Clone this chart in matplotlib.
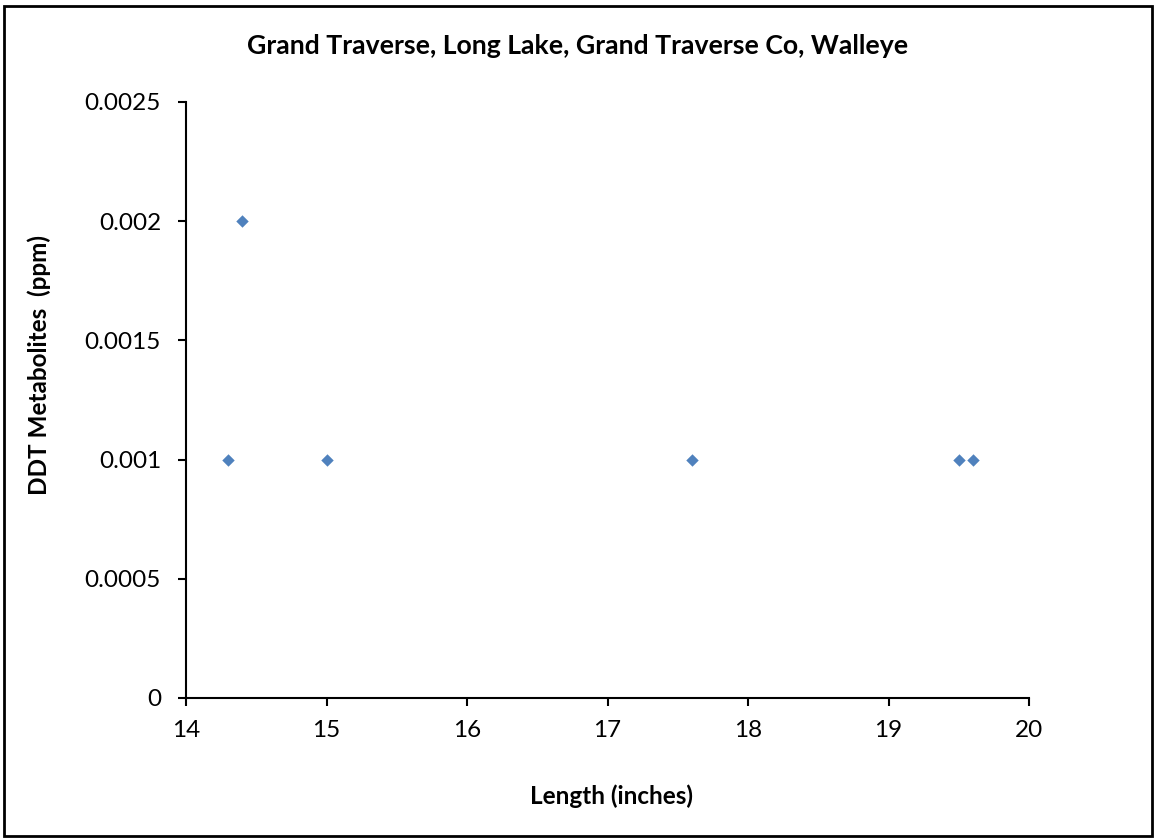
import matplotlib
matplotlib.use("Agg")
import matplotlib.pyplot as plt
from matplotlib.patches import Rectangle

length_in = [14.3, 14.4, 15.0, 17.6, 19.5, 19.6]
ddt_ppm = [0.001, 0.002, 0.001, 0.001, 0.001, 0.001]
x_ticks = [14, 15, 16, 17, 18, 19, 20]
y_ticks = [0, 0.0005, 0.001, 0.0015, 0.002, 0.0025]
y_tick_labels = ["0", "0.0005", "0.001", "0.0015", "0.002", "0.0025"]

plt.rcParams['font.family'] = ['Lato', 'DejaVu Sans']

W, H = 1156, 840
fig = plt.figure(figsize=(W / 100, H / 100), dpi=100)
ax = fig.add_axes([186 / W, 1 - 698 / H, (1029 - 186) / W, (698 - 102) / H])

ax.scatter(length_in, ddt_ppm, marker='D', s=40, color='#4F81BD', linewidths=0, zorder=3)

ax.set_xlim(14, 20)
ax.set_ylim(0, 0.0025)
ax.set_xticks(x_ticks)
ax.set_xticklabels([str(t) for t in x_ticks])
ax.set_yticks(y_ticks)
ax.set_yticklabels(y_tick_labels)
for s in ['top', 'right']:
    ax.spines[s].set_visible(False)
for s in ['left', 'bottom']:
    ax.spines[s].set_linewidth(1.5)
ax.tick_params(axis='x', direction='out', length=6, width=1.5, labelsize=17.5, pad=10)
ax.tick_params(axis='y', direction='out', length=6, width=1.5, labelsize=17.5, pad=12)

fig.text(578 / W, 1 - 46 / H, "Grand Traverse, Long Lake, Grand Traverse Co, Walleye",
         ha='center', va='center', fontsize=19.2, fontweight='bold')
fig.text(611 / W, 1 - 796 / H, "Length (inches)", ha='center', va='center',
         fontsize=17.5, fontweight='bold')
fig.text(39 / W, 1 - 365 / H, "DDT Metabolites  (ppm)", ha='center', va='center',
         rotation=90, fontsize=17.5, fontweight='bold')

fig.patches.append(Rectangle((4 / W, 4 / H), 1 - 8 / W, 1 - 10 / H,
                             transform=fig.transFigure, fill=False, edgecolor='black',
                             linewidth=2))

fig.savefig("out.png", dpi=100)
